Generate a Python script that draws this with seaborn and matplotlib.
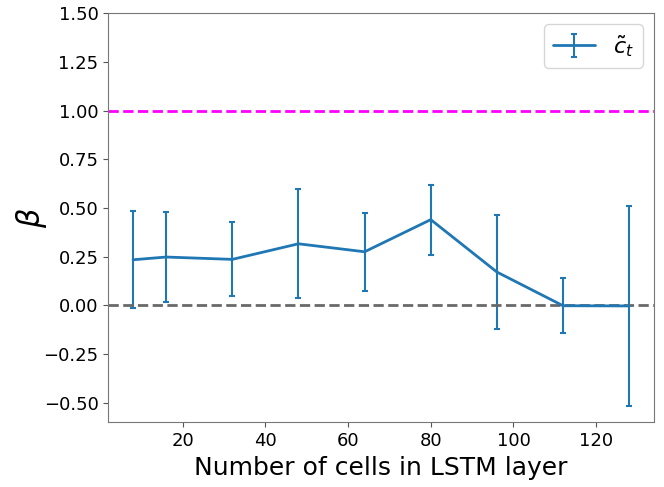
import numpy as np
import matplotlib
matplotlib.use("Agg")
import matplotlib.pyplot as plt
import seaborn as sns

# values
n_cells = [8, 16, 32, 48, 64, 80, 96, 112, 128]
beta = [0.234, 0.248, 0.236, 0.316, 0.275, 0.44, 0.171, -0.002, -0.003]
beta_err = [0.250, 0.229, 0.190, 0.279, 0.201, 0.180, 0.294, 0.140, 0.512]
y_ticks = [-0.5, -0.25, 0.0, 0.25, 0.5, 0.75, 1.0, 1.25, 1.5]

sns.set_style("ticks")
plt.rcParams['font.family'] = ['DejaVu Sans']
plt.rcParams['text.color'] = 'black'
plt.rcParams['axes.labelcolor'] = 'black'
plt.rcParams['xtick.color'] = 'black'
plt.rcParams['ytick.color'] = 'black'

fig, ax = plt.subplots(figsize=(6.64, 4.87), dpi=100)

ax.errorbar(n_cells, beta, yerr=beta_err, color='#1f77b4', lw=2,
            elinewidth=1.5, capsize=2, capthick=1.5, label=r'$\tilde{c}_t$')
ax.axhline(1.0, color='magenta', ls='--', lw=2)
ax.axhline(0.0, color='dimgray', ls='--', lw=2)

ax.set_ylim(-0.6, 1.5)
ax.set_yticks(y_ticks)
ax.set_yticklabels([f'{t:.2f}'.replace('-', '\u2212') for t in y_ticks])
ax.set_xlabel('Number of cells in LSTM layer', fontsize=18)
ax.set_ylabel(r'$\beta$', fontsize=22, labelpad=-4)
ax.tick_params(labelsize=13, color='#555555')
for s in ax.spines.values():
    s.set_color('#777777')
    s.set_visible(True)

ax.legend(loc='upper right', fontsize=16, handlelength=1.9)

plt.subplots_adjust(left=0.163, right=0.985, top=0.973, bottom=0.133)
plt.savefig('out.png', dpi=100)
